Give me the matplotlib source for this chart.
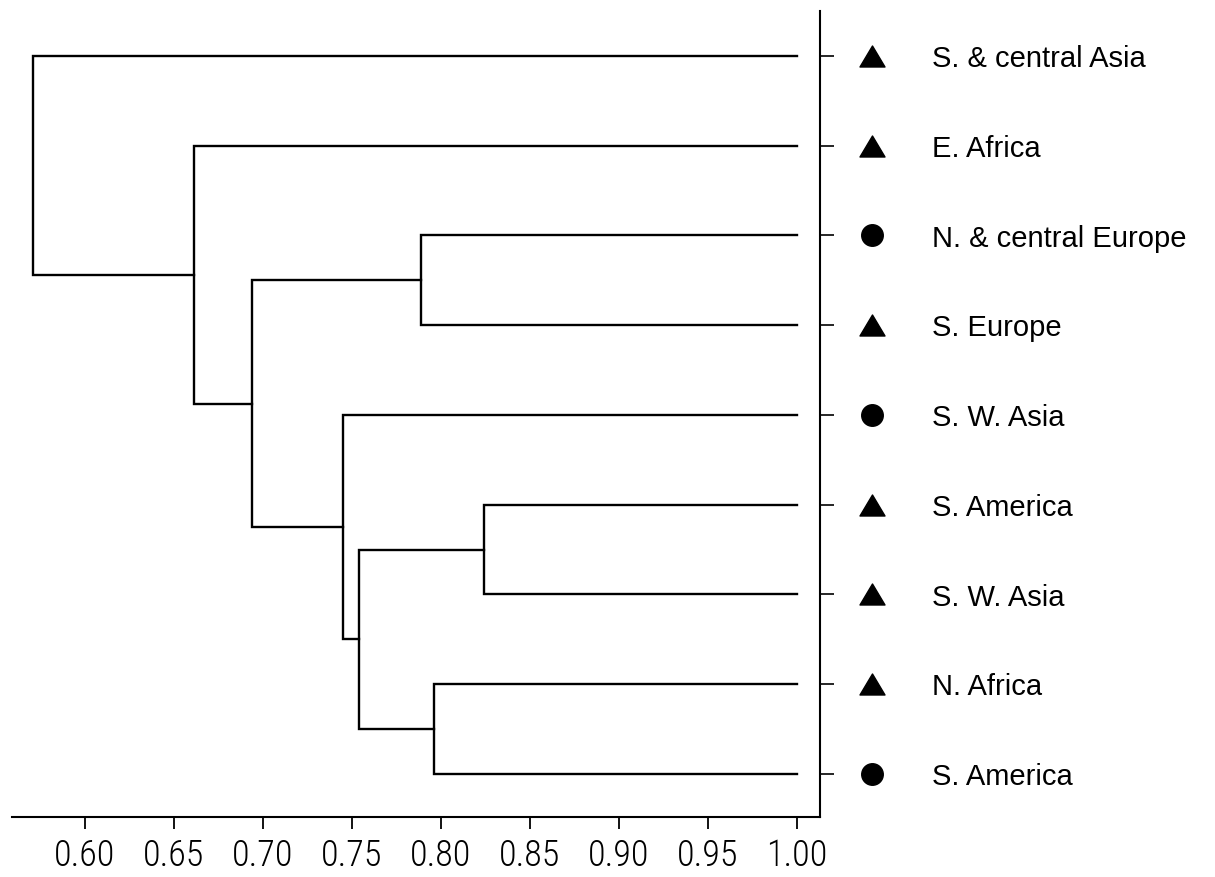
import os
import matplotlib
matplotlib.use("Agg")
import matplotlib.pyplot as plt
from matplotlib import font_manager
from matplotlib.font_manager import FontProperties
from matplotlib.path import Path
import matplotlib.transforms as mtransforms

# ---------------- data ----------------
leaf_labels = ["S. & central Asia", "E. Africa", "N. & central Europe", "S. Europe",
               "S. W. Asia", "S. America", "S. W. Asia", "N. Africa", "S. America"]
leaf_markers = ["triangle", "triangle", "circle", "triangle", "circle",
                "triangle", "triangle", "triangle", "circle"]
# merges: ids 0-8 are leaves (top to bottom), 9+ are clusters in merge order
merge_a = [2, 5, 7, 10, 4, 9, 1, 0]
merge_b = [3, 6, 8, 11, 12, 13, 14, 15]
merge_sim = [0.789, 0.824, 0.796, 0.754, 0.745, 0.694, 0.661, 0.571]
leaf_sim = 1.00
x_ticks = [0.60, 0.65, 0.70, 0.75, 0.80, 0.85, 0.90, 0.95, 1.00]
x_tick_labels = ["0.60", "0.65", "0.70", "0.75", "0.80", "0.85", "0.90", "0.95", "1.00"]

# ---------------- fonts ----------------
ttf = font_manager.fontManager.ttflist
names = {f.name for f in ttf}
label_font = "Liberation Sans" if "Liberation Sans" in names else "DejaVu Sans"

BAD = ["bold", "semi", "medium", "black", "heavy", "extra", "thin",
       "italic", "oblique", "mono", "serif", "variable", "[", "display"]
CONDENSED = {"condensed", "semi-condensed", "extra-condensed", "ultra-condensed", "narrow"}


def pick_condensed():
    prefs = ["Liberation Sans Narrow", "Arimo", "Roboto Condensed", "DejaVu Sans",
             "Noto Sans", "Open Sans", "Open Sans Condensed", "Lato", "Inter"]
    cands = []
    for f in ttf:
        base = os.path.basename(f.fname).lower()
        if any(b in base for b in BAD):
            continue
        is_cond = ("narrow" in f.name.lower() or "condensed" in f.name.lower()
                   or "narrow" in base or "condensed" in base
                   or str(f.stretch).lower() in CONDENSED)
        if not is_cond:
            continue
        rank = prefs.index(f.name) if f.name in prefs else len(prefs)
        light = 0 if "light" in base else 1
        cands.append((rank, light, base, f))
    if cands:
        cands.sort(key=lambda t: (t[0], t[1], t[2]))
        f = cands[0][3]
        size = 24 if f.name == "DejaVu Sans" else 26
        return FontProperties(fname=f.fname, size=size)
    return FontProperties(family=label_font, size=22)


tick_fp = pick_condensed()

W, H = 1215, 878
fig = plt.figure(figsize=(W / 100, H / 100), dpi=100)
ax = fig.add_axes([12 / W, 1 - 818 / H, 808 / W, 806 / H])

# ---------------- dendrogram ----------------
n = len(leaf_labels)
node_x = [leaf_sim] * n
node_y = [i + 1 for i in range(n)]
lw = 1.7
for a, b, s in zip(merge_a, merge_b, merge_sim):
    xa, ya = node_x[a], node_y[a]
    xb, yb = node_x[b], node_y[b]
    ax.plot([xa, s, s, xb], [ya, ya, yb, yb], color="black", lw=lw,
            solid_joinstyle="miter", solid_capstyle="projecting")
    node_x.append(s)
    node_y.append((ya + yb) / 2)

ax.set_xlim(0.559, 1.0129)
ax.set_ylim(9.48, 0.5)

# ---------------- axes styling ----------------
for side in ["top", "left"]:
    ax.spines[side].set_visible(False)
for side in ["bottom", "right"]:
    ax.spines[side].set_linewidth(1.5)

ax.set_xticks(x_ticks)
ax.set_xticklabels(x_tick_labels, fontproperties=tick_fp)
ax.tick_params(axis="x", direction="out", length=8.6, width=1.3, pad=6)

ax.yaxis.tick_right()
ax.set_yticks(node_y[:n])
ax.set_yticklabels([])
ax.tick_params(axis="y", direction="out", length=10, width=1.2)

# ---------------- markers and labels ----------------
tri = Path([(-1, -0.84), (1, -0.84), (0, 0.84), (-1, -0.84)],
           [Path.MOVETO, Path.LINETO, Path.LINETO, Path.CLOSEPOLY])
marker_x = 0.60 + (872 - 85) / 1780
text_x = 0.60 + (932 - 85) / 1780
text_tr = mtransforms.offset_copy(ax.transData, fig=fig, x=0, y=-7.3, units="points")
for i, (lab, mk) in enumerate(zip(leaf_labels, leaf_markers)):
    y = node_y[i]
    if mk == "triangle":
        ax.plot([marker_x], [y], marker=tri, markersize=18, color="black",
                linestyle="none", clip_on=False)
    else:
        ax.plot([marker_x], [y], marker="o", markersize=15.5, color="black",
                linestyle="none", clip_on=False)
    ax.text(text_x, y, lab, transform=text_tr, fontfamily=label_font, fontsize=21,
            ha="left", va="baseline", clip_on=False)

fig.savefig("out.png", dpi=100, facecolor="white")
